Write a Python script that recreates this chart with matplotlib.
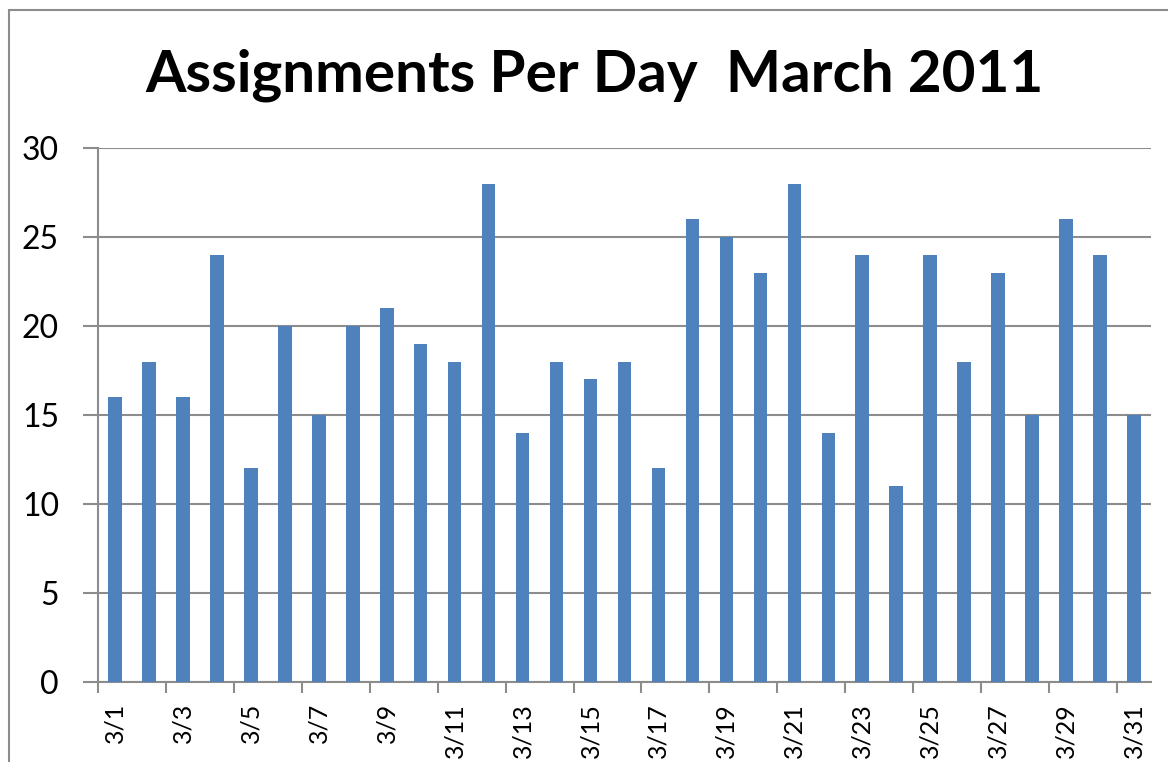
import matplotlib
matplotlib.use("Agg")
import matplotlib.pyplot as plt
from matplotlib.patches import Rectangle

days = [f"3/{d}" for d in range(1, 32)]
values = [16, 18, 16, 24, 12, 20, 15, 20, 21, 19, 18, 28, 14, 18, 17, 18, 12,
          26, 25, 23, 28, 14, 24, 11, 24, 18, 23, 15, 26, 24, 15]
y_ticks = [0, 5, 10, 15, 20, 25, 30]
title = "Assignments Per Day  March 2011"

plt.rcParams['font.family'] = ['Lato', 'DejaVu Sans']

W, H = 1168, 762
fig = plt.figure(figsize=(W / 100, H / 100), dpi=100)
ax = fig.add_axes([98 / W, 1 - 682 / H, (1151 - 98) / W, (682 - 148) / H])

x = list(range(len(days)))
ax.bar(x, values, width=0.4, color='#4F81BD', zorder=3)
ax.set_xlim(-0.5, len(days) - 0.5)
ax.set_ylim(0, 30)
ax.set_yticks(y_ticks)
ax.set_yticklabels([str(v) for v in y_ticks], fontsize=23)
ax.yaxis.grid(True, color='#8C8C8C', linewidth=1.5, zorder=0)
ax.tick_params(axis='y', length=11, width=1.5, color='#8C8C8C', pad=17)

# labels every other day at bar centers, tick marks at category boundaries
ax.set_xticks(x[::2])
ax.set_xticklabels(days[::2], rotation=90, fontsize=18)
ax.tick_params(axis='x', length=0, pad=15)
ax.set_xticks([i - 0.5 for i in range(0, len(days), 2)], minor=True)
ax.tick_params(axis='x', which='minor', length=8, width=1.5, color='#8C8C8C')

for s in ['top', 'right']:
    ax.spines[s].set_visible(False)
for s in ['left', 'bottom']:
    ax.spines[s].set_color('#8C8C8C')
    ax.spines[s].set_linewidth(1.5)

fig.text(594 / W, 1 - 92 / H, title, ha='center', va='baseline',
         fontsize=42, fontweight='bold')

fig.patches.append(Rectangle((9 / W, -0.1), 1.2, 1 - 10 / H + 0.1,
                             transform=fig.transFigure, fill=False,
                             edgecolor='#8C8C8C', linewidth=1.5))

fig.savefig("out.png", dpi=100)
